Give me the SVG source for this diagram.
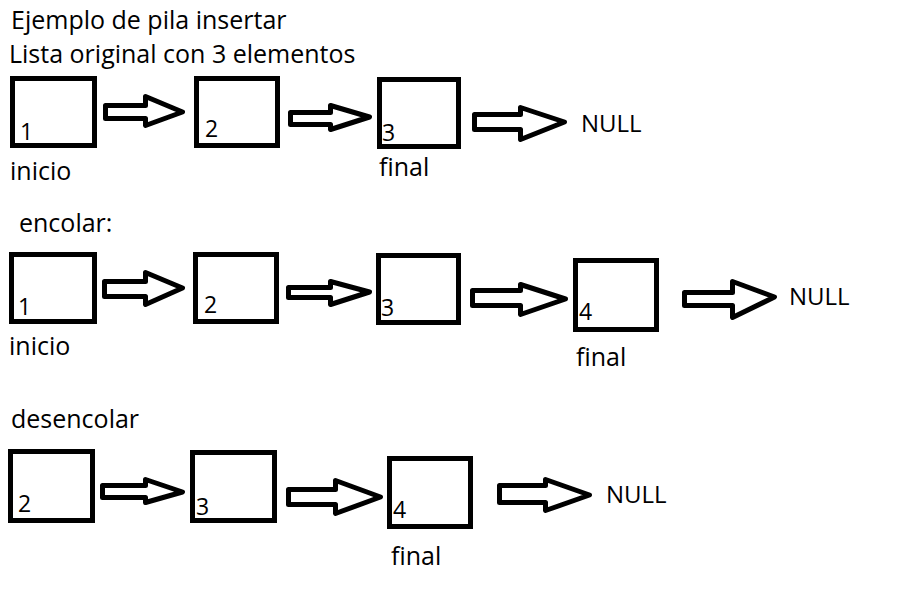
<svg xmlns="http://www.w3.org/2000/svg" width="908" height="599" viewBox="0 0 908 599">
<style>
.box{fill:#fff;stroke:#000;stroke-width:5}
.arr{fill:#fff;stroke:#000;stroke-width:5;stroke-linejoin:round}
text{font-family:"Open Sans","Noto Sans",sans-serif;fill:#000}
.t{font-size:25px}
.n{font-size:23px}
.l{font-size:25px}
.nl{font-size:24px}
</style>
<rect width="908" height="599" fill="#fff"/>
<text class="t" x="11" y="29">Ejemplo de pila insertar</text>
<text class="t" x="9" y="63">Lista original con 3 elementos</text>
<text class="t" x="19" y="232">encolar:</text>
<text class="t" x="11" y="428">desencolar</text>

<g id="connectors">
<polygon class="arr" points="105.5,105.5 145.5,105.5 145.5,96.5 182.5,112 145.5,125.5 145.5,118.5 105.5,118.5"/>
<polygon class="arr" points="290.5,112.5 330.5,112.5 330.5,105.5 369.5,117 330.5,129.5 330.5,124.5 290.5,124.5"/>
<polygon class="arr" points="474.5,114.5 520.5,114.5 520.5,107.5 564.5,122 520.5,139.5 520.5,129.5 474.5,129.5"/>
<polygon class="arr" points="104.5,281.5 145.5,281.5 145.5,272.5 182.5,288 145.5,304.5 145.5,296.5 104.5,296.5"/>
<polygon class="arr" points="288.5,287.5 330.5,287.5 330.5,281.5 369.5,292 330.5,304.5 330.5,297.5 288.5,297.5"/>
<polygon class="arr" points="472.5,290.5 520.5,290.5 520.5,284.5 565.5,299 520.5,314.5 520.5,305.5 472.5,305.5"/>
<polygon class="arr" points="684.5,292.5 732.5,292.5 732.5,281.5 774.5,297 732.5,317.5 732.5,305.5 684.5,305.5"/>
<polygon class="arr" points="102.5,485.5 145.5,485.5 145.5,479.5 182.5,492 145.5,502.5 145.5,497.5 102.5,497.5"/>
<polygon class="arr" points="288.5,489.5 335.5,489.5 335.5,480.5 380.5,497 335.5,513.5 335.5,504.5 288.5,504.5"/>
<polygon class="arr" points="499.5,485.5 545.5,485.5 545.5,479.5 589.5,495 545.5,510.5 545.5,502.5 499.5,502.5"/>
</g>

<g id="r1n1"><rect class="box" x="12.5" y="78.5" width="82" height="67"/><text class="n" x="20" y="140">1</text></g>
<g id="r1n2"><rect class="box" x="196.5" y="78.5" width="81" height="67"/><text class="n" x="205" y="137">2</text></g>
<g id="r1n3"><rect class="box" x="379.5" y="79.5" width="79" height="67"/><text class="n" x="382" y="141">3</text></g>
<g id="r1null"><text class="nl" x="581" y="132">NULL</text></g>
<text class="l" x="10" y="180">inicio</text>
<text class="l" x="379" y="176">final</text>

<g id="r2n1"><rect class="box" x="11.5" y="254.5" width="83" height="67"/><text class="n" x="18" y="315">1</text></g>
<g id="r2n2"><rect class="box" x="195.5" y="254.5" width="81" height="67"/><text class="n" x="204" y="313">2</text></g>
<g id="r2n3"><rect class="box" x="378.5" y="255.5" width="80" height="67"/><text class="n" x="381" y="316">3</text></g>
<g id="r2n4"><rect class="box" x="575.5" y="260.5" width="81" height="69"/><text class="n" x="579" y="320">4</text></g>
<g id="r2null"><text class="nl" x="789" y="305">NULL</text></g>
<text class="l" x="9" y="355">inicio</text>
<text class="l" x="576" y="366">final</text>

<g id="r3n2"><rect class="box" x="10.5" y="451.5" width="82" height="69"/><text class="n" x="18" y="512">2</text></g>
<g id="r3n3"><rect class="box" x="192.5" y="452.5" width="82" height="68"/><text class="n" x="196" y="515">3</text></g>
<g id="r3n4"><rect class="box" x="389.5" y="458.5" width="81" height="68"/><text class="n" x="393" y="518">4</text></g>
<g id="r3null"><text class="nl" x="606" y="503">NULL</text></g>
<text class="l" x="391" y="565">final</text>
</svg>
